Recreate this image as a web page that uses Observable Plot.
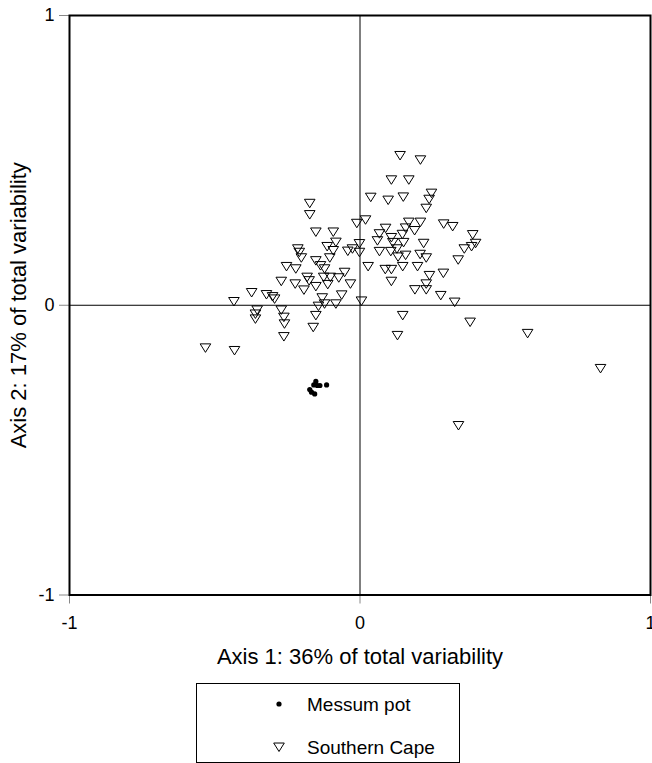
<!DOCTYPE html>
<html>
<head>
<meta charset="utf-8">
<script src="https://cdn.jsdelivr.net/npm/d3@7"></script>
<script src="https://cdn.jsdelivr.net/npm/@observablehq/plot@0.6"></script>
<style>
  html, body { margin: 0; padding: 0; background: white; }
  #wrap { position: relative; width: 652px; height: 763px; overflow: hidden; font-family: "Liberation Sans", Arial, sans-serif; }
  #legend { position: absolute; left: 196px; top: 683px; width: 264px; height: 80px; box-sizing: border-box; border: 1.5px solid #000; background: white; }
  #legend svg { position: absolute; overflow: visible; }
  #legend span { position: absolute; white-space: nowrap; line-height: 1; }
</style>
</head>
<body>
<div id="wrap"><div id="chart"></div><div id="legend"></div></div>
<script>
// ---- data ----
const xTicks = [-1, 0, 1];
const yTicks = [-1, 0, 1];
const xTitle = "Axis 1: 36% of total variability";
const yTitle = "Axis 2: 17% of total variability";
const seriesNames = ["Messum pot", "Southern Cape"];

const messumX = [-0.173, -0.167, -0.156, -0.159, -0.152, -0.147, -0.138, -0.115];
const messumY = [-0.291, -0.300, -0.306, -0.275, -0.263, -0.277, -0.277, -0.275];

const capeX = [
  -0.173, -0.173, -0.152, -0.092, -0.011, -0.214, -0.209, -0.202, -0.113, -0.083,
  -0.092, -0.104, -0.042, -0.026, -0.152, -0.136, -0.122, -0.253, -0.221, -0.053,
  -0.271, -0.223, -0.182, -0.175, -0.193, -0.152, -0.125, -0.102, -0.073, -0.111,
  -0.033, -0.373, -0.434, -0.322, -0.301, -0.294, -0.130, -0.063, -0.354, -0.360,
  -0.360, -0.271, -0.262, -0.260, -0.262, -0.143, -0.122, -0.083, -0.152, -0.161,
  -0.532, -0.432, 0.005,
  0.138, 0.208, 0.108, 0.168, 0.037, 0.097, 0.149, 0.246, 0.238, 0.228,
  0.019, 0.168, 0.208, 0.288, 0.319, 0.088, 0.067, 0.157, 0.188, 0.108,
  0.146, 0.060, 0.113, 0.150, 0.219, 0.388, 0.398, 0.384, 0.359, -0.002,
  -0.002, 0.067, 0.106, 0.127, 0.131, 0.157, 0.207, 0.228, 0.338, 0.028,
  0.087, 0.108, 0.147, 0.198, 0.108, 0.239, 0.287, 0.228, 0.228, 0.189,
  0.278, 0.326, 0.147, 0.379, 0.129, 0.577, 0.828, 0.339
];
const capeY = [
  0.352, 0.313, 0.253, 0.253, 0.283, 0.195, 0.183, 0.164, 0.203, 0.218,
  0.189, 0.164, 0.187, 0.195, 0.154, 0.137, 0.126, 0.134, 0.126, 0.114,
  0.083, 0.074, 0.097, 0.085, 0.053, 0.065, 0.097, 0.097, 0.095, 0.072,
  0.074, 0.044, 0.013, 0.037, 0.030, 0.022, 0.026, 0.036, -0.016, -0.030,
  -0.047, -0.016, -0.041, -0.064, -0.108, -0.003, 0.005, 0.005, -0.035, -0.076,
  -0.147, -0.156, 0.015,
  0.517, 0.502, 0.433, 0.433, 0.373, 0.363, 0.374, 0.387, 0.366, 0.335,
  0.295, 0.287, 0.287, 0.281, 0.272, 0.266, 0.247, 0.267, 0.258, 0.234,
  0.245, 0.223, 0.217, 0.217, 0.214, 0.244, 0.214, 0.203, 0.195, 0.213,
  0.183, 0.186, 0.186, 0.195, 0.167, 0.173, 0.176, 0.164, 0.157, 0.134,
  0.124, 0.124, 0.134, 0.134, 0.083, 0.103, 0.111, 0.074, 0.054, 0.054,
  0.034, 0.011, -0.035, -0.058, -0.104, -0.097, -0.218, -0.415
];

// ---- build tables ----
const messum = messumX.map((x, i) => ({x, y: messumY[i]}));
const cape = capeX.map((x, i) => ({x, y: capeY[i]}));

// downward-pointing triangle symbol
const triangleDown = {
  draw(ctx, size) {
    const r = Math.sqrt(size / Math.PI);
    ctx.moveTo(-r, -0.75 * r);
    ctx.lineTo(r, -0.75 * r);
    ctx.lineTo(0, 0.85 * r);
    ctx.closePath();
  }
};

const font = '"Liberation Sans", Arial, sans-serif';

const chart = Plot.plot({
  width: 652,
  height: 680,
  marginLeft: 69,
  marginRight: 2,
  marginTop: 15,
  marginBottom: 85.5,
  style: {fontFamily: font, fontSize: "18px", background: "white", color: "#000", overflow: "visible"},
  x: {domain: [-1, 1]},
  y: {domain: [-1, 1]},
  marks: [
    Plot.axisX({ticks: xTicks, tickSize: 9, tickPadding: 12, tickFormat: d => String(d), stroke: "#888", label: null, fontSize: 18}),
    Plot.axisY({ticks: yTicks, tickSize: 10, tickPadding: 5, tickFormat: d => String(d), stroke: "#888", label: null, fontSize: 18}),
    Plot.ruleX([0], {stroke: "#000", strokeWidth: 1}),
    Plot.ruleY([0], {stroke: "#000", strokeWidth: 1}),
    Plot.frame({stroke: "#000", strokeWidth: 2}),
    Plot.dot(cape, {x: "x", y: "y", symbol: triangleDown, r: 5.3, stroke: "#000", strokeWidth: 1, fill: "none"}),
    Plot.dot(messum, {x: "x", y: "y", r: 2.6, fill: "#000", stroke: "none"}),
    Plot.text([xTitle], {frameAnchor: "bottom", dy: 62, text: d => d, fontSize: 22, fill: "#000", lineAnchor: "middle", textAnchor: "middle"}),
    Plot.text([yTitle], {frameAnchor: "left", dx: -51, rotate: -90, text: d => d, fontSize: 22, fill: "#000", lineAnchor: "middle", textAnchor: "middle"})
  ]
});
document.getElementById("chart").appendChild(chart);

// ---- legend ----
const legend = d3.select("#legend");
const rowsY = [20, 63];
seriesNames.forEach((name, i) => {
  const svg = legend.append("svg").attr("width", 20).attr("height", 20)
    .style("left", "72px").style("top", (rowsY[i] - 10) + "px");
  if (i === 0) {
    svg.append("circle").attr("cx", 10).attr("cy", 10).attr("r", 2.6).attr("fill", "#000");
  } else {
    const p = d3.path();
    triangleDown.draw(p, Math.PI * 5.3 * 5.3);
    svg.append("path").attr("d", p.toString()).attr("transform", "translate(10,10)")
      .attr("fill", "none").attr("stroke", "#000").attr("stroke-width", 1);
  }
  legend.append("span").text(name)
    .style("left", "110px").style("top", (rowsY[i] - 9.5) + "px")
    .style("font-size", "19px").style("font-family", font);
});
</script>
</body>
</html>
